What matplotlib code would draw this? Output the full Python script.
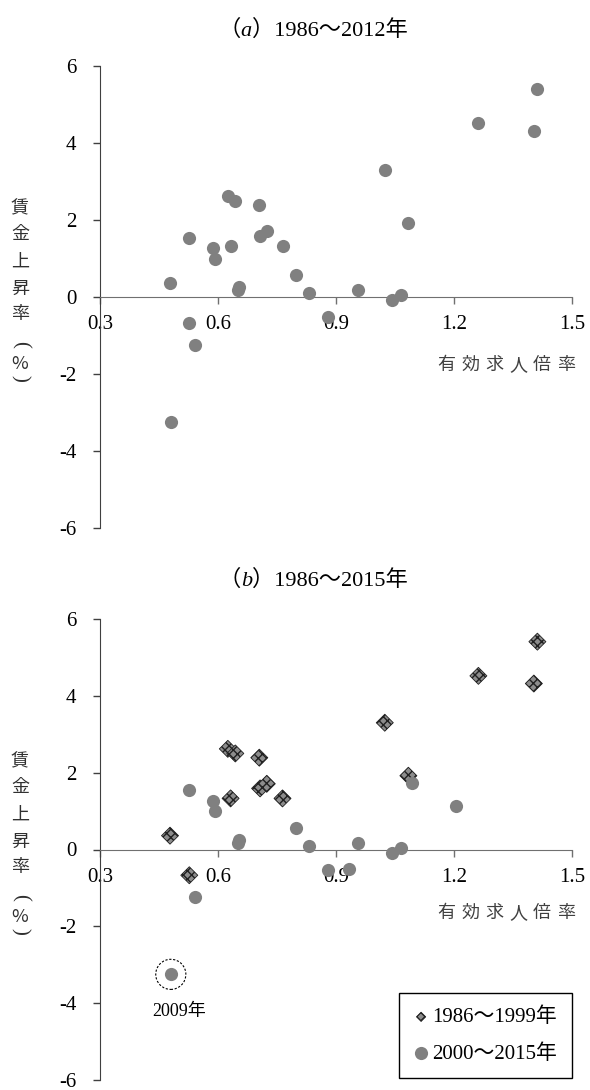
import matplotlib
matplotlib.use('Agg')
import matplotlib.pyplot as plt
from matplotlib.offsetbox import TextArea, HPacker, AnnotationBbox
from matplotlib.legend_handler import HandlerPathCollection

plt.rcParams['font.family'] = ['Liberation Serif', 'Noto Sans CJK JP']
plt.rcParams['axes.unicode_minus'] = False
plt.rcParams['hatch.linewidth'] = 1.0

# 1986-1999 (job-offer ratio, wage growth %)
ratio_86_99 = [0.625, 0.705, 1.024, 1.262, 1.412, 1.403, 1.084,
               0.764, 0.644, 0.632, 0.707, 0.724, 0.527, 0.478]
wage_86_99 = [2.62, 2.39, 3.30, 4.52, 5.41, 4.32, 1.92,
              1.33, 2.50, 1.33, 1.59, 1.71, -0.67, 0.36]

# 2000-2015, in year order
years_00_15 = [2000, 2001, 2002, 2003, 2004, 2005, 2006, 2007,
               2008, 2009, 2010, 2011, 2012, 2013, 2014, 2015]
ratio_00_15 = [0.588, 0.592, 0.541, 0.650, 0.832, 0.956, 1.064, 1.042,
               0.879, 0.480, 0.525, 0.653, 0.799, 0.932, 1.093, 1.204]
wage_00_15 = [1.26, 1.00, -1.24, 0.17, 0.10, 0.17, 0.04, -0.09,
              -0.53, -3.25, 1.54, 0.26, 0.56, -0.50, 1.74, 1.12]

xticks = [0.3, 0.6, 0.9, 1.2, 1.5]
xtick_labels = ['0.3', '0.6', '0.9', '1.2', '1.5']
yticks = [-6, -4, -2, 0, 2, 4, 6]
ytick_labels = ['-6', '-4', '-2', '0', '2', '4', '6']

W, H = 590, 1090
def fx(px):
    return px / W
def fy(py):
    return 1 - py / H

fig = plt.figure(figsize=(5.9, 10.9), dpi=100)
ax_top = fig.add_axes([fx(100), fy(528), fx(472), 462 / H])
ax_bot = fig.add_axes([fx(100), fy(1080), fx(472), 461 / H])

def style_axes(ax):
    ax.set_xlim(0.3, 1.5)
    ax.set_ylim(-6, 6)
    ax.patch.set_visible(False)
    ax.spines['top'].set_visible(False)
    ax.spines['right'].set_visible(False)
    ax.spines['bottom'].set_position(('data', 0))
    ax.spines['left'].set_color('#404040')
    ax.spines['bottom'].set_color('#707070')
    ax.set_xticks(xticks)
    ax.set_xticklabels(xtick_labels)
    ax.set_yticks(yticks)
    ax.set_yticklabels(ytick_labels)
    ax.tick_params(direction='out', length=5, width=1, labelsize=15)
    ax.tick_params(axis='x', pad=8, color='#707070')
    ax.tick_params(axis='y', pad=12, color='#404040')

def ylabel_chars(top_px):
    # vertical label, parentheses turned sideways
    chars = ['賃', '金', '上', '昇', '率', '(', '%', ')']
    offs = [142, 168, 196, 223, 248, 278, 298, 312]
    for ch, o in zip(chars, offs):
        if ch in '()':
            fig.text(fx(20), fy(top_px + o), ch, ha='center', va='center', rotation=270,
                     family='Liberation Serif', fontsize=15, color='#303030')
        else:
            fig.text(fx(20), fy(top_px + o), ch, ha='center', va='center',
                     family=['Noto Sans CJK JP', 'DejaVu Sans'], fontsize=13, color='#303030')

def xlabel_chars(ypx):
    for i, ch in enumerate('有効求人倍率'):
        fig.text(fx(446 + 24 * i), fy(ypx), ch, ha='center', va='center',
                 family='Noto Sans CJK JP', fontsize=13, color='#404040')

def add_title(letter, span, ypx):
    cjk = dict(family=['Liberation Serif', 'Noto Sans CJK JP'], size=16)
    parts = [TextArea('（', textprops=cjk),
             TextArea(letter, textprops=dict(family='Liberation Serif', style='italic', size=16)),
             TextArea('）' + span, textprops=cjk)]
    box = HPacker(children=parts, align='baseline', pad=0, sep=0)
    ab = AnnotationBbox(box, (fx(313), fy(ypx)), xycoords='figure fraction',
                        frameon=False, box_alignment=(0.5, 0.5))
    fig.add_artist(ab)

circle_kw = dict(s=90, marker='o', color='#808080', linewidths=0, zorder=3, clip_on=False)
diamond_kw = dict(s=75, marker='D', facecolor='#8c8c8c', edgecolor='#202020',
                  hatch='xxxx', linewidths=0.6, zorder=3, clip_on=False)

# (a) 1986-2012: all points same style
n12 = years_00_15.index(2012) + 1
style_axes(ax_top)
ax_top.scatter(ratio_86_99 + ratio_00_15[:n12], wage_86_99 + wage_00_15[:n12], **circle_kw)
add_title('a', '1986～2012年', 30)
ylabel_chars(66)
xlabel_chars(365)

# (b) 1986-2015
style_axes(ax_bot)
dia = ax_bot.scatter(ratio_86_99, wage_86_99, label='1986～1999年', **diamond_kw)
circ = ax_bot.scatter(ratio_00_15, wage_00_15, label='2000～2015年', **circle_kw)
i09 = years_00_15.index(2009)
ax_bot.scatter([ratio_00_15[i09]], [wage_00_15[i09]], s=470, marker='o', facecolors='none',
               edgecolors='black', linewidths=0.8, linestyles=(0, (2, 1.5)), zorder=3)
ax_bot.annotate('2009年', (ratio_00_15[i09], wage_00_15[i09]), xytext=(6, -27),
                textcoords='offset points', ha='center', va='center', fontsize=13)
add_title('b', '1986～2015年', 580)
ylabel_chars(619)
xlabel_chars(913)

leg = ax_bot.legend(handles=[dia, circ], loc='lower right', bbox_to_anchor=(1.0, 0.004),
                    borderaxespad=0, fancybox=False, edgecolor='black', framealpha=1,
                    handlelength=0.7, handletextpad=0.2, labelspacing=0.8, borderpad=0.7,
                    prop=dict(family=['Liberation Serif', 'Noto Sans CJK JP'], size=15),
                    handler_map={dia: HandlerPathCollection(sizes=[22]),
                                 circ: HandlerPathCollection(sizes=[90])})
leg.get_frame().set_linewidth(1.0)

fig.savefig('out.png', dpi=100)
